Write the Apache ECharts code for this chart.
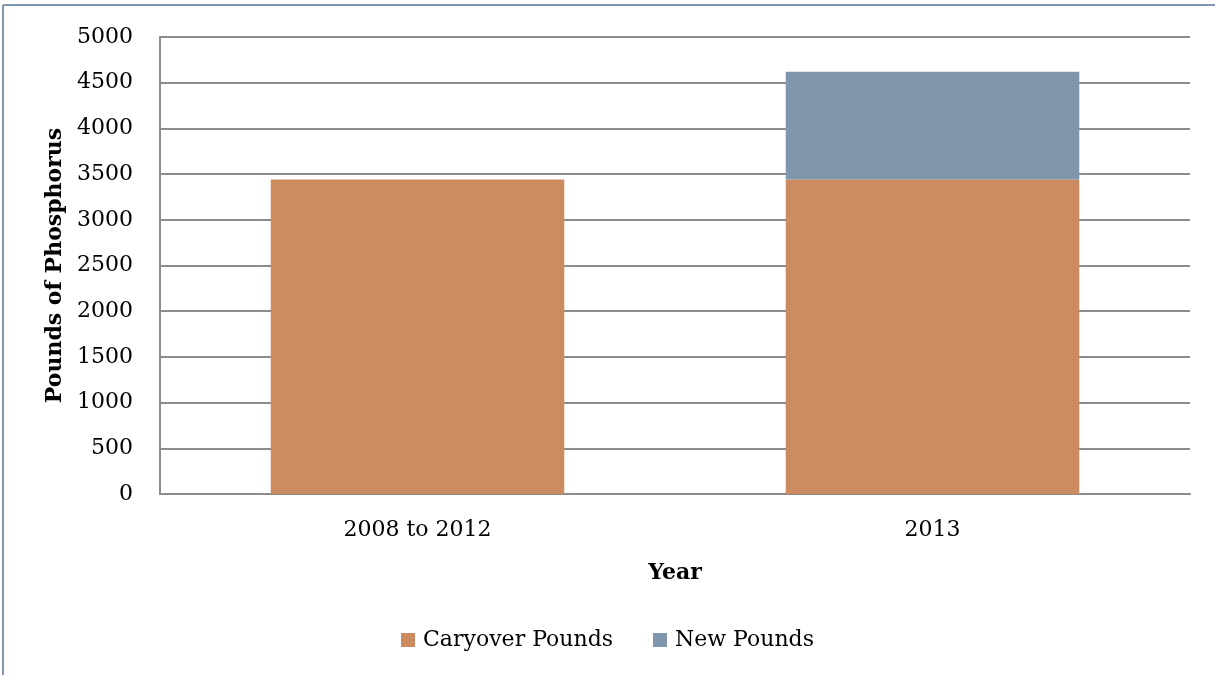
<!DOCTYPE html>
<html>
<head>
<meta charset="utf-8">
<script src="https://cdn.jsdelivr.net/npm/echarts@6/dist/echarts.min.js"></script>
<style>
  html, body { margin: 0; padding: 0; background: #fff; }
  #chart { width: 1215px; height: 675px; }
</style>
</head>
<body>
<div id="chart"></div>
<script>
// Phosphorus load by period (pounds)
const categories = ['2008 to 2012', '2013'];
const caryoverPounds = [3440, 3440];
const newPounds = [0, 1180];
const yTicks = [0, 500, 1000, 1500, 2000, 2500, 3000, 3500, 4000, 4500, 5000];

const FONT = 'DejaVu Serif';
const chart = echarts.init(document.getElementById('chart'), null, { renderer: 'canvas' });

chart.setOption({
  animation: false,
  backgroundColor: '#ffffff',
  textStyle: { fontFamily: FONT },
  graphic: [
    { type: 'line', shape: { x1: 3, y1: 5, x2: 1215, y2: 5 }, style: { stroke: '#8097b1', lineWidth: 2 } },
    { type: 'line', shape: { x1: 3, y1: 5, x2: 3, y2: 675 }, style: { stroke: '#8097b1', lineWidth: 2 } }
  ],
  grid: { left: 160, right: 25, top: 37, bottom: 181 },
  legend: {
    bottom: 19,
    left: 'center',
    itemWidth: 14,
    itemHeight: 14,
    itemGap: 40,
    icon: 'rect',
    textStyle: { fontFamily: FONT, fontSize: 22, color: '#000', padding: [0, 0, 0, 3] },
    data: ['Caryover Pounds', 'New Pounds']
  },
  xAxis: {
    type: 'category',
    data: categories,
    name: 'Year',
    nameLocation: 'middle',
    nameGap: 68,
    nameTextStyle: { fontFamily: FONT, fontSize: 22, fontWeight: 'bold', color: '#000' },
    axisLine: { lineStyle: { color: '#8c8c8c', width: 2 } },
    axisTick: { show: false },
    axisLabel: { fontFamily: FONT, fontSize: 22, color: '#000', margin: 25 }
  },
  yAxis: {
    type: 'value',
    min: yTicks[0],
    max: yTicks[yTicks.length - 1],
    interval: 500,
    name: 'Pounds of Phosphorus',
    nameLocation: 'middle',
    nameGap: 93,
    nameTextStyle: { fontFamily: FONT, fontSize: 22, fontWeight: 'bold', color: '#000' },
    axisLine: { show: true, lineStyle: { color: '#8c8c8c', width: 2 } },
    axisTick: { show: false },
    splitLine: { lineStyle: { color: '#8c8c8c', width: 2 } },
    axisLabel: { fontFamily: FONT, fontSize: 22, color: '#000', margin: 27, formatter: v => String(v) }
  },
  series: [
    {
      name: 'Caryover Pounds',
      type: 'bar',
      stack: 'total',
      barWidth: '57%',
      itemStyle: { color: '#cc8c60' },
      data: caryoverPounds
    },
    {
      name: 'New Pounds',
      type: 'bar',
      stack: 'total',
      barWidth: '57%',
      itemStyle: { color: '#8096ad' },
      data: newPounds
    }
  ]
});
</script>
</body>
</html>
